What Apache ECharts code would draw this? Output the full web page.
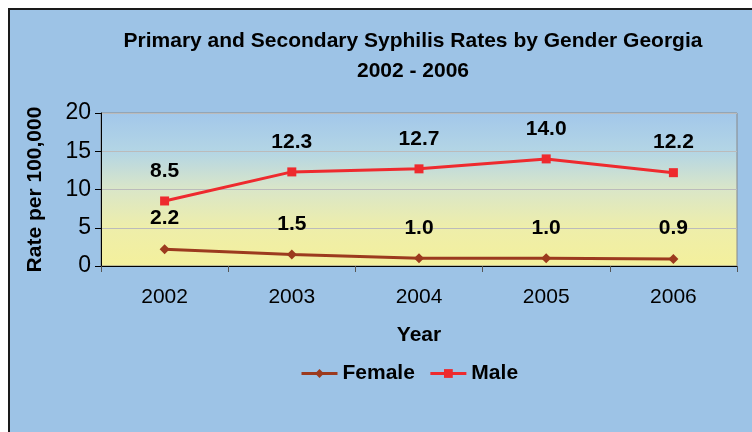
<!DOCTYPE html>
<html>
<head>
<meta charset="utf-8">
<script src="https://cdn.jsdelivr.net/npm/echarts@6/dist/echarts.min.js"></script>
<style>
  html, body { margin: 0; padding: 0; background: #fff; }
  #chart { width: 752px; height: 432px; }
</style>
</head>
<body>
<div id="chart"></div>
<script>
var years = ['2002', '2003', '2004', '2005', '2006'];
var female = [2.2, 1.5, 1.0, 1.0, 0.9];
var male = [8.5, 12.3, 12.7, 14.0, 12.2];
var yTicks = [0, 20, 5]; // min, max, interval

var myChart = echarts.init(document.getElementById('chart'));
var font = 'Liberation Sans, Arial, sans-serif';

myChart.setOption({
    backgroundColor: '#fff',
    animation: false,
    graphic: [{
        type: 'rect',
        z: -10,
        shape: { x: 9, y: 9, width: 760, height: 440 },
        style: { fill: '#9DC3E6', stroke: '#1a1a1a', lineWidth: 2 }
    }],
    title: {
        text: 'Primary and Secondary Syphilis Rates by Gender Georgia\n2002 - 2006',
        left: 408,
        top: 21,
        textAlign: 'center',
        textStyle: { fontFamily: font, fontSize: 21, fontWeight: 'bold', color: '#000', lineHeight: 30 }
    },
    legend: {
        top: 358,
        left: 295,
        itemWidth: 36,
        itemHeight: 11,
        itemGap: 14,
        lineStyle: { width: 3 },
        textStyle: { fontFamily: font, fontSize: 21, fontWeight: 'bold', color: '#000' },
        data: ['Female', 'Male']
    },
    grid: {
        left: 101, right: 15, top: 113, bottom: 166,
        show: true,
        borderColor: '#888',
        borderWidth: 1,
        backgroundColor: {
            type: 'linear', x: 0, y: 0, x2: 0, y2: 1,
            colorStops: [
                { offset: 0, color: '#a2c7ea' },
                { offset: 0.25, color: '#b3d5e5' },
                { offset: 0.5, color: '#dae6c8' },
                { offset: 0.75, color: '#eeeeaa' },
                { offset: 1, color: '#f4f09c' }
            ]
        }
    },
    xAxis: {
        type: 'category',
        data: years,
        boundaryGap: true,
        name: 'Year',
        nameLocation: 'middle',
        nameGap: 59,
        nameTextStyle: { fontFamily: font, fontSize: 21, fontWeight: 'bold', color: '#000' },
        axisLine: { lineStyle: { color: '#000', width: 1 } },
        axisTick: { show: true, length: 6, lineStyle: { color: '#555' } },
        axisLabel: { fontFamily: font, fontSize: 21, color: '#000', margin: 21 }
    },
    yAxis: {
        type: 'value',
        min: yTicks[0],
        max: yTicks[1],
        interval: yTicks[2],
        name: 'Rate per 100,000',
        nameLocation: 'middle',
        nameGap: 55,
        nameTextStyle: { fontFamily: font, fontSize: 21, fontWeight: 'bold', color: '#000' },
        axisLine: { show: true, lineStyle: { color: '#000', width: 1 } },
        axisTick: { show: true, length: 6, lineStyle: { color: '#000' } },
        axisLabel: { fontFamily: font, fontSize: 23, color: '#000', margin: 10 },
        splitLine: { lineStyle: { color: '#bbb', width: 1 } }
    },
    series: [
        {
            name: 'Female',
            type: 'line',
            data: female,
            symbol: 'diamond',
            symbolSize: 10,
            itemStyle: { color: '#9C3A1E' },
            lineStyle: { color: '#9C3A1E', width: 3 },
            label: {
                show: true, position: 'top', distance: 15,
                fontFamily: font, fontSize: 21, fontWeight: 'bold', color: '#000',
                formatter: function (p) { return p.value.toFixed(1); }
            }
        },
        {
            name: 'Male',
            type: 'line',
            data: male,
            symbol: 'rect',
            symbolSize: 9,
            itemStyle: { color: '#EE2A2E' },
            lineStyle: { color: '#EE2A2E', width: 3 },
            label: {
                show: true, position: 'top', distance: 15,
                fontFamily: font, fontSize: 21, fontWeight: 'bold', color: '#000',
                formatter: function (p) { return p.value.toFixed(1); }
            }
        }
    ]
});
</script>
</body>
</html>
